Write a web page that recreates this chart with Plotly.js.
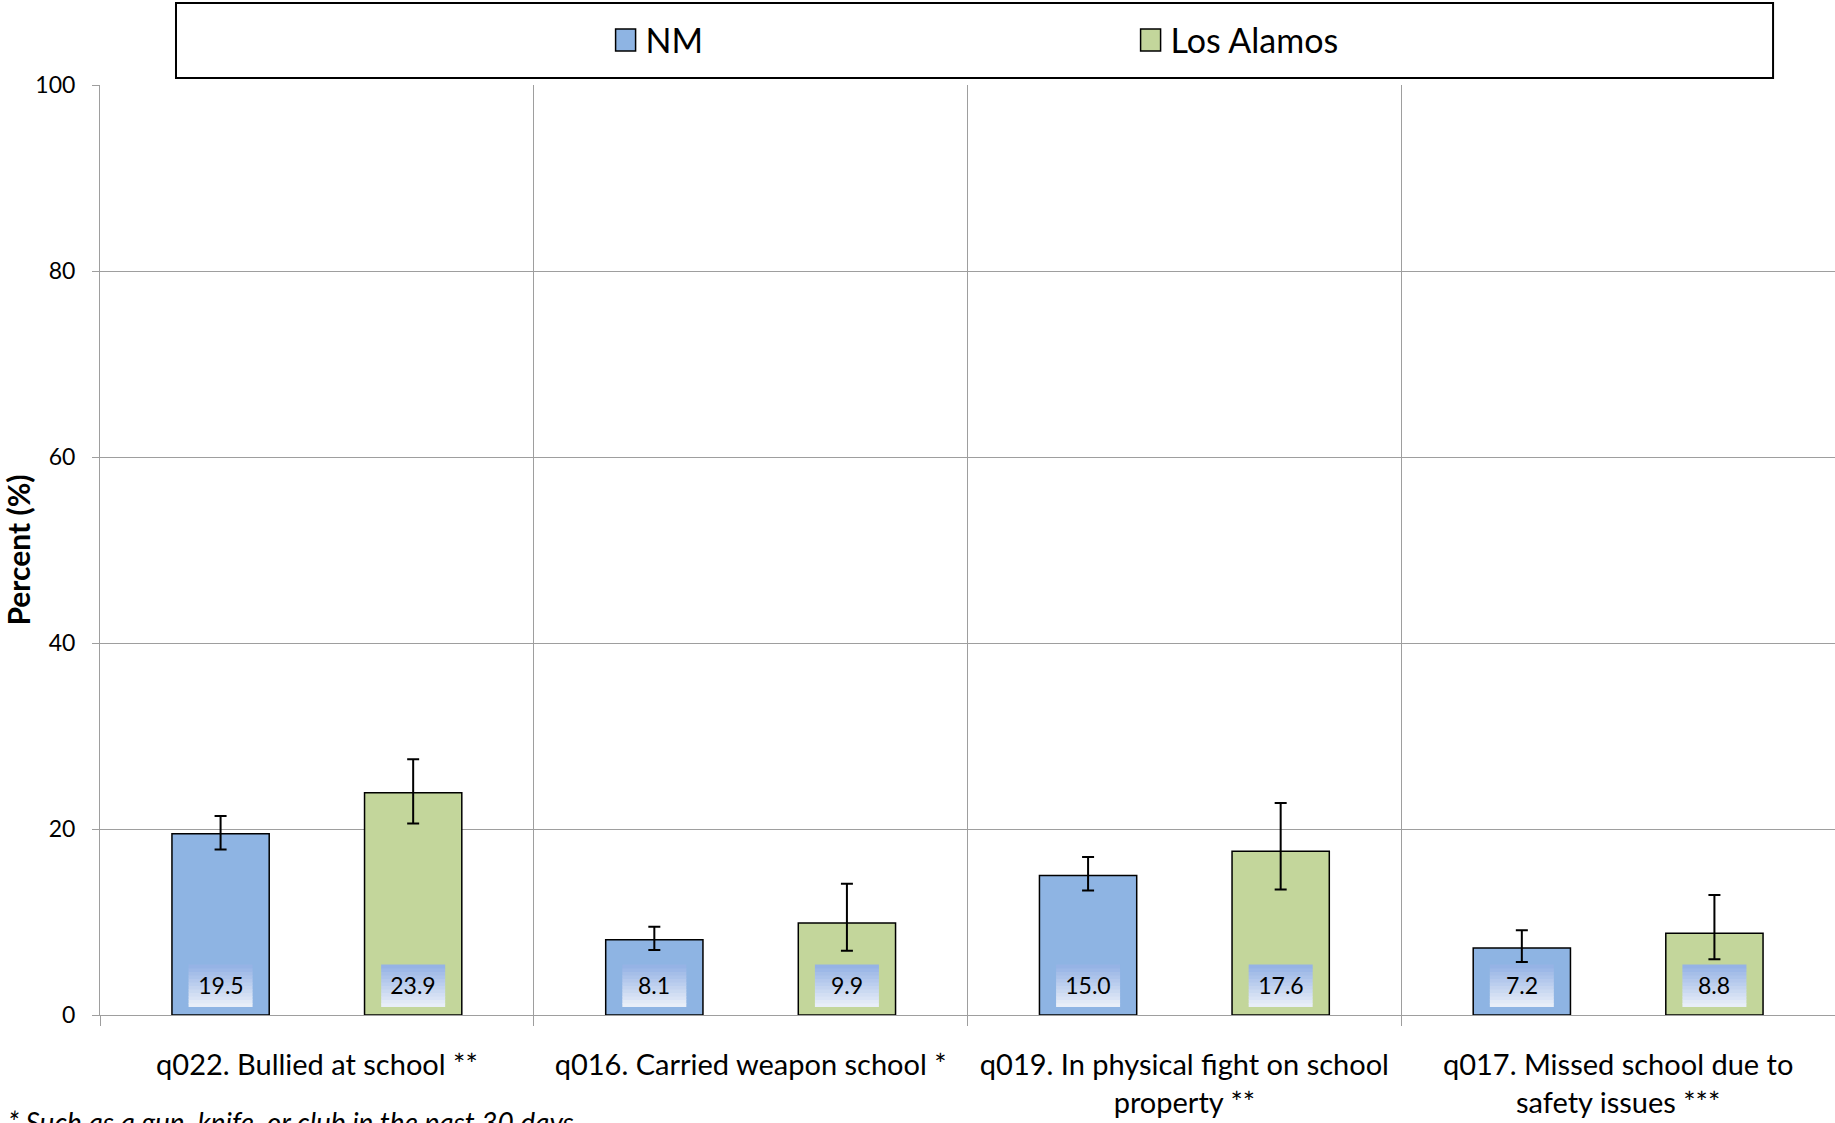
<!DOCTYPE html>
<html>
<head>
<meta charset="utf-8">
<script src="https://cdn.plot.ly/plotly-3.0.1.min.js"></script>
<style>html,body{margin:0;padding:0;background:#fff;}#chart{width:1835px;height:1123px;}</style>
</head>
<body>
<div id="chart"></div>
<script>
// ---- data ----
const categories = [
  "q022. Bullied at school **",
  "q016. Carried weapon school *",
  "q019. In physical fight on school<br>property **",
  "q017. Missed school due to<br>safety issues ***"
];
const seriesNames = ["NM", "Los Alamos"];
const nmValues = [19.5, 8.1, 15.0, 7.2];
const nmLower  = [17.8, 7.0, 13.4, 5.7];
const nmUpper  = [21.4, 9.5, 17.0, 9.1];
const laValues = [23.9, 9.9, 17.6, 8.8];
const laLower  = [20.6, 6.9, 13.5, 6.0];
const laUpper  = [27.5, 14.1, 22.8, 12.9];
const yTicks = [0, 20, 40, 60, 80, 100];
const footnote = "* Such as a gun, knife, or club in the past 30 days";

// ---- styles ----
const FONT = "Lato, 'Open Sans', sans-serif";
const GRID = "#9e9e9e";
const colors = ["#8eb4e3", "#c3d69b"];
const groupOffset = [-0.222, 0.222];
const gradTop = [150, 179, 229], gradBottom = [232, 238, 248];
const BOX_W = 64, BOX_H = 42, BOX_GAP = 8, STRIPS = 12;

function makeTrace(name, vals, lo, hi, color) {
  return {
    type: "bar",
    name: name,
    x: categories,
    y: vals,
    marker: {color: color, line: {color: "#000", width: 1.5}},
    error_y: {
      type: "data", symmetric: false,
      array: vals.map((v, i) => hi[i] - v),
      arrayminus: vals.map((v, i) => v - lo[i]),
      color: "#000", thickness: 2, width: 6
    },
    hoverinfo: "skip"
  };
}

const traces = [
  makeTrace(seriesNames[0], nmValues, nmLower, nmUpper, colors[0]),
  makeTrace(seriesNames[1], laValues, laLower, laUpper, colors[1])
];

const shapes = [{
  type: "rect", xref: "paper", yref: "paper",
  x0: 0.0438, x1: 0.9643, y0: 1.0075, y1: 1.0881,
  line: {color: "#000", width: 2}, fillcolor: "rgba(0,0,0,0)"
}];
const annotations = [];
const stripH = BOX_H / STRIPS;
[nmValues, laValues].forEach((vals, s) => {
  vals.forEach((v, i) => {
    const xc = i + groupOffset[s];
    for (let k = 0; k < STRIPS; k++) {
      const t = k / (STRIPS - 1); // 0 = bottom, 1 = top
      const c = gradBottom.map((b, j) => Math.round(b + (gradTop[j] - b) * t));
      shapes.push({
        type: "rect", xref: "x", yref: "y", layer: "above",
        xsizemode: "pixel", ysizemode: "pixel", xanchor: xc, yanchor: 0,
        x0: -BOX_W / 2, x1: BOX_W / 2,
        y0: BOX_GAP + k * stripH, y1: BOX_GAP + (k + 1) * stripH + 0.6,
        line: {width: 0}, fillcolor: "rgb(" + c.join(",") + ")"
      });
    }
    annotations.push({
      xref: "x", yref: "y", x: xc, y: 0,
      yanchor: "bottom", xanchor: "center", yshift: BOX_GAP,
      text: v.toFixed(1), showarrow: false,
      font: {family: FONT, size: 23, color: "#000"},
      width: BOX_W - 8, height: BOX_H - 8, borderpad: 4
    });
  });
});
annotations.push({
  xref: "paper", yref: "paper", x: -0.054, y: -0.115,
  xanchor: "left", yanchor: "middle", showarrow: false,
  text: "<i>" + footnote + "</i>",
  font: {family: FONT, size: 28, color: "#000"}
});

const layout = {
  width: 1835, height: 1123,
  margin: {l: 100, r: 0, t: 85, b: 108},
  paper_bgcolor: "#fff", plot_bgcolor: "#fff",
  font: {family: FONT, color: "#000"},
  barmode: "group", bargap: 0.112, bargroupgap: 0.495,
  showlegend: true,
  legend: {
    orientation: "h", x: 0.594, xanchor: "center", y: 1.048, yanchor: "middle",
    font: {family: FONT, size: 34, color: "#000"},
    entrywidth: 480, bgcolor: "rgba(0,0,0,0)", borderwidth: 0,
    traceorder: "normal"
  },
  xaxis: {
    type: "category", tickson: "boundaries",
    showgrid: true, gridcolor: GRID, gridwidth: 1,
    showline: true, linecolor: GRID, linewidth: 1,
    ticks: "outside", ticklen: 10, tickcolor: GRID,
    tickfont: {family: FONT, size: 29, color: "#000"},
    ticklabelstandoff: 24,
    fixedrange: true
  },
  yaxis: {
    range: [0, 100], tickvals: yTicks,
    showgrid: true, gridcolor: GRID, gridwidth: 1,
    showline: true, linecolor: GRID, linewidth: 1,
    ticks: "outside", ticklen: 7, tickcolor: GRID,
    tickfont: {family: FONT, size: 23, color: "#000"},
    ticklabelstandoff: 12,
    zeroline: false,
    title: {text: "<b>Percent (%)</b>", font: {family: FONT, size: 30, color: "#000"}, standoff: 2},
    fixedrange: true
  },
  shapes: shapes,
  annotations: annotations
};

Plotly.newPlot("chart", traces, layout, {staticPlot: true, displayModeBar: false}).then(function (gd) {
  // enlarge the legend swatches to match the reference's larger boxes
  gd.querySelectorAll(".legend .legendpoints path").forEach(function (p) {
    p.setAttribute("d", "M10,11H-10V-11H10Z");
  });
});
</script>
</body>
</html>
